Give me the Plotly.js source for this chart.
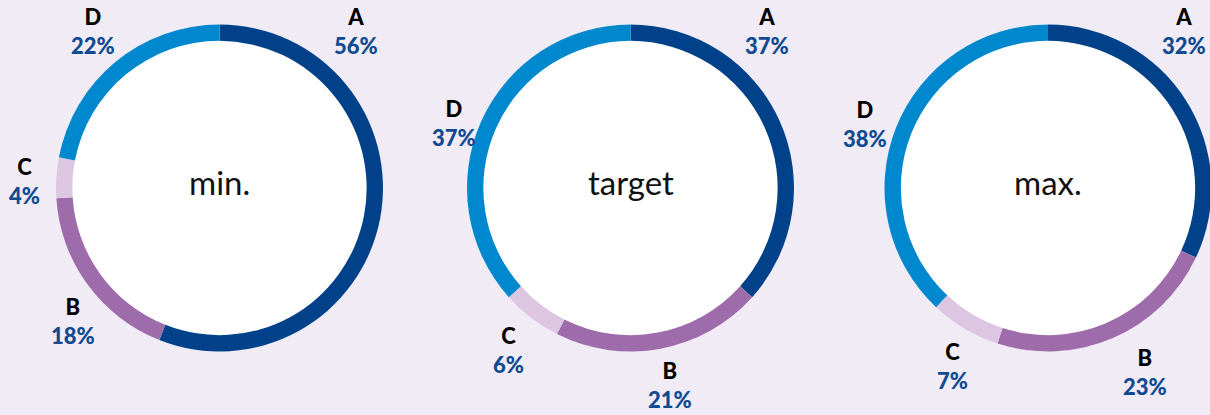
<!DOCTYPE html>
<html>
<head>
<meta charset="utf-8">
<script src="https://cdn.plot.ly/plotly-3.0.1.min.js"></script>
<style>
  html, body { margin: 0; padding: 0; overflow: hidden; background: #f1ebf6; }
  #chart { width: 1212px; height: 415px; }
</style>
</head>
<body>
<div id="chart"></div>
<script>
// ---- data ----
const categories = ['A', 'B', 'C', 'D'];
const pieTitles = ['min.', 'target', 'max.'];
const minValues = [56, 18, 4, 22];
const targetValues = [37, 21, 6, 37];
const maxValues = [32, 23, 7, 38];

// ---- styling / layout ----
const sliceColors = ['#00418a', '#9e6bab', '#dcc6e1', '#0088cf'];
const pctColor = '#0d4a91';
const W = 1212, H = 415;
const centersX = [219.5, 630.5, 1048];
const centerY = 188;
const R = 163.5;
// small label nudges (px) per pie, per slice [A, B, C, D]
const labelNudge = [
  [[0, 0], [15, 15], [5, 6], [1, -3]],
  [[0, 0], [2, 0], [0, 3], [6, 17]],
  [[0, 0], [18, 0], [6, 6], [3, 10]]
];

const series = [minValues, targetValues, maxValues];
const traces = [];
const annotations = [];

series.forEach((vals, k) => {
  const cx = centersX[k];
  const domain = {
    x: [(cx - R) / W, (cx + R) / W],
    y: [(H - centerY - R) / H, (H - centerY + R) / H]
  };
  // white disc behind the ring
  traces.push({
    type: 'pie', values: [1], labels: ['bg'], domain: domain,
    marker: { colors: ['#ffffff'] }, textinfo: 'none', hoverinfo: 'skip',
    showlegend: false, sort: false
  });
  traces.push({
    type: 'pie', values: vals, labels: categories, domain: domain,
    hole: 0.9, sort: false, direction: 'clockwise', rotation: 0,
    marker: { colors: sliceColors, line: { width: 0 } },
    textinfo: 'none', hoverinfo: 'label+value', showlegend: false
  });
  // center title
  annotations.push({
    x: cx / W, y: (H - centerY + 6) / H, xref: 'paper', yref: 'paper',
    xanchor: 'center', yanchor: 'middle', showarrow: false,
    text: pieTitles[k],
    font: { family: 'Lato, sans-serif', size: 33, color: '#111111' }
  });
  // outside labels
  const total = vals.reduce((a, b) => a + b, 0);
  let cum = 0;
  vals.forEach((v, i) => {
    const mid = (cum + v / 2) / total * 360;
    cum += v;
    const ang = (i === 0 ? 41 : mid) * Math.PI / 180;
    const dist = i === 0 ? 208 : 200;
    const px = cx + dist * Math.sin(ang) + labelNudge[k][i][0];
    const py = centerY - dist * Math.cos(ang) + labelNudge[k][i][1];
    annotations.push({
      x: px / W, y: (H - py) / H, xref: 'paper', yref: 'paper',
      xanchor: 'center', yanchor: 'middle', showarrow: false, align: 'center',
      text: categories[i] + '<br><span style="color:' + pctColor + '">' + v + '%</span>',
      font: { family: 'Lato, sans-serif', size: 22, color: '#000000', weight: 900 }
    });
  });
});

const layout = {
  width: W, height: H,
  margin: { l: 0, r: 0, t: 0, b: 0 },
  paper_bgcolor: '#f1ebf6',
  plot_bgcolor: '#f1ebf6',
  showlegend: false,
  annotations: annotations
};

Plotly.newPlot('chart', traces, layout, { displayModeBar: false, staticPlot: true });
</script>
</body>
</html>
